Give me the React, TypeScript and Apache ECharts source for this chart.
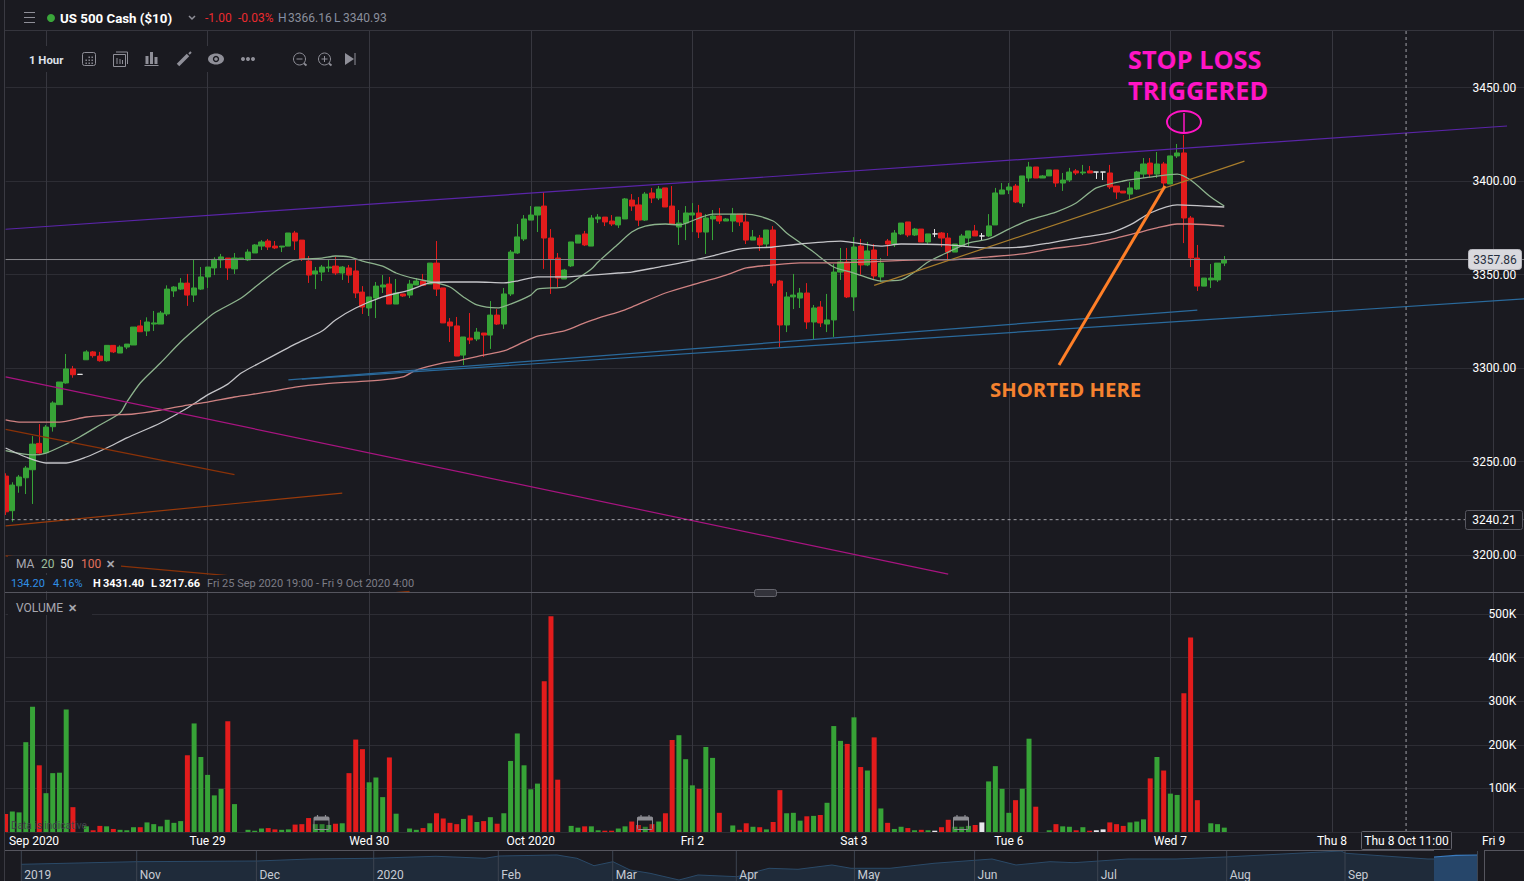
import React, { useEffect, useRef } from "react";
import * as echarts from "echarts";

// ---- Candles, one entry per hourly slot ----
const opens = [
3242.2,3223.7,3237.0,3241.3,3245.6,3259.7,3254.7,3268.6,3280.4,3292.0,
3299.5,3296.6,3304.4,3308.6,3306.4,3303.9,3312.1,3308.0,3311.2,3312.3,
3322.5,3319.8,3323.5,3323.5,3328.9,3341.2,3342.2,3345.4,3339.0,3342.2,
3348.7,3353.5,3357.8,3358.8,3353.0,3358.0,3357.8,3361.5,3365.2,3367.9,
3365.2,3364.7,3365.2,3372.2,3368.4,3357.2,3350.3,3351.3,3353.5,3354.5,
3350.8,3353.5,3351.9,3340.6,3332.1,3337.4,3343.3,3344.9,3334.2,3339.6,
3339.0,3344.4,3346.5,3344.9,3356.1,3342.8,3324.6,3322.5,3306.9,3316.0,
3315.5,3318.7,3317.6,3328.3,3323.5,3339.6,3361.5,3369.0,3379.1,3381.8,
3386.6,3369.5,3358.8,3347.6,3354.6,3366.8,3371.7,3365.2,3379.7,3380.7,
3378.6,3376.5,3379.7,3389.8,3387.2,3379.1,3393.6,3390.9,3396.3,3386.6,
3375.4,3377.5,3381.8,3382.9,3372.7,3379.7,3381.3,3378.6,3378.6,3382.3,
3378.1,3368.4,3369.5,3366.3,3373.8,3346.5,3323.0,3338.0,3337.4,3340.1,
3324.6,3332.6,3323.5,3325.7,3351.3,3356.7,3338.0,3365.2,3355.1,3363.1,
3348.7,3367.9,3366.3,3371.7,3378.1,3371.1,3374.3,3367.4,3371.7,3372.2,
3369.5,3362.0,3365.2,3369.5,3373.3,3370.6,3370.6,3376.5,3393.0,3395.2,
3397.3,3388.2,3401.6,3407.5,3401.6,3402.7,3405.9,3398.9,3400.5,3405.4,
3404.3,3405.4,3404.8,3404.8,3404.3,3397.3,3394.6,3393.0,3395.7,3403.7,
3409.6,3403.7,3409.1,3398.4,3413.4,3415.0,3380.2,3358.8,3343.8,3347.1,
3347.1,3356.1];
const closes = [
3223.1,3237.4,3241.7,3246.5,3259.3,3254.5,3268.4,3281.3,3292.5,3299.5,
3296.4,3296.6,3308.6,3306.6,3303.9,3312.1,3308.6,3311.2,3312.8,3321.9,
3319.4,3324.6,3324.1,3329.4,3342.2,3343.3,3345.4,3339.0,3342.8,3348.7,
3354.0,3358.1,3359.4,3353.5,3358.8,3358.8,3362.0,3365.8,3367.4,3364.7,
3364.2,3365.2,3372.2,3367.9,3358.3,3349.7,3351.9,3354.0,3354.0,3350.8,
3354.0,3349.7,3340.1,3332.6,3338.0,3343.8,3344.4,3334.2,3340.1,3338.5,
3344.9,3346.5,3344.2,3356.1,3342.2,3324.1,3322.5,3306.4,3316.6,3315.0,
3319.2,3317.6,3328.3,3323.5,3339.6,3362.0,3370.1,3379.7,3381.8,3386.1,
3369.5,3358.3,3348.1,3352.4,3367.4,3371.1,3365.8,3380.2,3380.7,3378.1,
3377.0,3380.7,3390.4,3386.6,3379.1,3393.0,3390.9,3395.7,3386.1,3377.0,
3377.5,3382.9,3382.9,3372.7,3380.2,3381.3,3378.6,3379.7,3382.3,3378.1,
3368.4,3370.1,3365.8,3373.8,3345.4,3323.0,3338.0,3339.0,3340.1,3324.6,
3332.1,3324.1,3325.7,3351.3,3356.7,3338.0,3364.7,3355.1,3362.6,3349.2,
3356.1,3366.3,3372.2,3377.5,3371.1,3374.3,3367.4,3371.7,3371.7,3369.5,
3362.0,3366.3,3370.6,3373.3,3370.6,3370.6,3376.0,3393.6,3395.2,3396.8,
3388.8,3402.7,3407.5,3401.6,3402.7,3405.9,3398.9,3400.5,3404.8,3404.3,
3404.8,3404.3,3404.8,3404.8,3396.8,3394.1,3393.6,3396.3,3404.8,3409.1,
3403.7,3409.1,3398.9,3413.4,3415.0,3380.2,3358.8,3343.8,3348.1,3348.1,
3356.1,3357.8];
const lows = [
3221.4,3217.8,3233.3,3232.6,3227.3,3254.0,3254.5,3266.0,3280.4,3291.6,
3294.8,3296.6,3304.3,3305.5,3303.4,3303.4,3308.0,3308.0,3310.1,3312.3,
3319.4,3317.1,3319.8,3323.5,3327.8,3338.0,3341.7,3333.2,3335.3,3341.7,
3342.8,3349.7,3353.5,3347.1,3350.3,3358.0,3357.2,3361.5,3363.1,3363.1,
3363.6,3362.0,3365.2,3363.1,3357.2,3345.5,3342.2,3346.5,3351.3,3349.7,
3347.1,3345.5,3337.4,3328.9,3327.8,3326.7,3340.1,3334.2,3334.2,3338.0,
3337.4,3344.4,3344.2,3344.9,3338.5,3324.1,3313.9,3306.4,3301.6,3312.8,
3314.4,3305.9,3310.2,3323.0,3320.9,3338.5,3361.0,3367.9,3379.1,3372.7,
3353.0,3339.6,3343.3,3347.6,3354.0,3366.8,3365.2,3365.2,3377.5,3375.9,
3375.9,3374.9,3379.7,3384.0,3375.9,3378.6,3388.2,3389.8,3386.1,3376.5,
3365.8,3368.4,3372.7,3369.5,3361.0,3368.4,3377.0,3378.6,3372.7,3375.9,
3366.3,3368.4,3362.6,3364.7,3343.8,3311.2,3319.2,3331.5,3332.1,3320.9,
3315.5,3321.9,3319.2,3316.6,3347.1,3337.4,3330.5,3349.7,3354.5,3347.6,
3346.0,3359.9,3364.7,3371.1,3370.0,3370.6,3367.4,3366.3,3370.0,3364.7,
3357.2,3362.0,3364.7,3365.2,3370.6,3367.9,3370.0,3376.5,3393.0,3393.0,
3388.2,3386.1,3399.5,3401.6,3401.6,3402.7,3396.8,3394.7,3399.5,3403.2,
3403.2,3404.3,3401.1,3400.5,3395.7,3390.4,3393.6,3389.8,3395.2,3401.6,
3401.6,3401.6,3396.8,3398.4,3412.3,3366.8,3354.0,3341.2,3343.8,3342.8,
3346.0,3354.5];
const highs = [
3243.7,3238.9,3242.8,3247.6,3263.6,3270.0,3269.5,3282.2,3292.5,3307.5,
3301.1,3296.6,3309.5,3309.1,3308.6,3312.1,3312.1,3312.1,3312.8,3321.9,
3325.7,3327.1,3330.5,3330.5,3344.2,3343.8,3348.1,3350.3,3357.8,3354.0,
3354.0,3359.2,3361.0,3358.8,3361.5,3358.8,3363.5,3366.3,3368.4,3369.0,
3367.9,3365.2,3372.2,3373.3,3368.4,3359.9,3354.0,3355.1,3357.8,3359.4,
3354.5,3355.1,3357.8,3343.8,3338.0,3346.0,3349.7,3348.7,3347.6,3339.6,
3347.1,3348.1,3350.3,3356.1,3367.9,3342.8,3326.7,3327.3,3316.6,3329.4,
3321.4,3318.7,3335.8,3331.5,3342.8,3363.1,3377.0,3381.8,3386.6,3386.1,
3394.1,3374.3,3361.5,3353.0,3367.4,3371.1,3373.3,3381.8,3382.3,3380.7,
3381.8,3380.7,3390.9,3393.0,3391.4,3394.1,3396.3,3397.3,3396.3,3397.3,
3384.5,3386.6,3388.2,3387.2,3382.3,3384.5,3385.6,3380.2,3385.6,3382.3,
3382.9,3373.8,3371.1,3373.8,3375.9,3347.1,3340.6,3350.3,3342.8,3345.4,
3333.7,3335.8,3339.6,3355.6,3364.2,3364.2,3370.0,3369.0,3367.4,3366.3,
3358.8,3369.0,3373.8,3377.5,3378.1,3374.9,3374.3,3371.7,3374.3,3372.7,
3372.2,3366.3,3371.7,3373.3,3376.5,3372.2,3382.3,3396.3,3398.9,3398.9,
3398.4,3402.7,3410.2,3407.5,3403.2,3405.9,3405.9,3404.3,3407.0,3406.4,
3408.6,3408.0,3404.8,3404.8,3408.6,3397.3,3394.6,3399.5,3405.4,3412.3,
3412.3,3415.5,3410.2,3413.4,3419.8,3424.6,3381.3,3365.8,3348.1,3355.6,
3356.1,3359.9];
// thousands of lots per slot
const volumesK = [
41,47,45,206,287,153,89,135,136,281,57,0,
13,4,14,13,7,5,4,11,11,22,18,13,28,21,25,
176,249,172,131,84,99,254,64,0,
5,3,8,9,6,5,6,17,18,32,18,18,16,19,20,
135,212,190,114,125,80,171,42,0,8,5,
9,20,43,31,21,18,30,38,23,25,34,19,43,
163,226,153,98,111,346,495,120,0,
14,10,13,13,4,3,3,8,13,24,16,12,18,24,43,
211,222,167,107,99,195,170,44,0,
15,5,20,12,11,6,23,96,43,44,26,36,37,39,67,243,209,
202,263,149,141,217,54,
21,7,12,9,4,5,4,3,11,28,12,12,14,16,22,
116,151,99,44,73,99,214,58,0,
4,18,13,12,4,11,3,4,6,22,18,14,22,24,29,
123,172,141,88,85,318,446,73,0,
20,18,10];

// ---- Moving averages, read at the slots listed ----
const ma20Slots = [0,4,6,9,11,14,17,18,20,23,26,29,31,35,38,41,43,47,49,51,53,56,58,61,64,66,68,70,73,75,78,79,83,84,87,88,91,93,95,98,100,103,105,110,114,116,120,123,126,130,133,135,137,140,143,146,149,152,156,159,162,166,170,174,176,179,181];
const ma20Values = [3255.8,3253.5,3254.5,3259.3,3263.1,3269.5,3275.9,3281.8,3292.0,3302.7,3313.9,3323.5,3329.4,3337.4,3346.0,3354.0,3357.8,3358.8,3359.9,3359.4,3357.2,3354.5,3350.8,3347.6,3345.5,3343.3,3338.0,3333.7,3332.1,3334.2,3339.0,3342.2,3343.3,3345.5,3352.9,3356.7,3366.3,3372.7,3375.9,3377.0,3376.5,3380.2,3382.3,3382.3,3378.6,3372.2,3362.0,3354.0,3350.8,3346.5,3347.1,3351.3,3356.7,3362.0,3366.8,3369.0,3374.3,3379.1,3383.4,3388.2,3396.3,3400.0,3402.1,3403.7,3400.5,3391.4,3386.6];
const ma50Slots = [0,3,6,9,12,15,18,23,27,30,33,35,38,43,47,49,52,56,60,63,66,70,74,76,79,83,87,91,93,97,101,105,109,114,118,124,130,133,140,146,151,155,160,164,167,170,174,178,181];
const ma50Values = [3257.2,3252.4,3249.2,3249.2,3252.4,3257.2,3262.6,3270.6,3278.6,3285.6,3291.4,3297.3,3303.2,3312.8,3319.8,3325.7,3332.1,3338.0,3341.7,3345.5,3346.0,3346.0,3345.5,3346.5,3348.7,3348.7,3349.7,3350.8,3351.3,3354.0,3356.7,3359.9,3363.6,3364.7,3366.3,3367.9,3365.2,3366.3,3365.8,3364.2,3364.7,3366.8,3370.0,3372.2,3376.5,3382.9,3387.2,3386.6,3386.1];
const ma100Slots = [0,2,5,8,12,16,19,23,27,30,34,39,43,47,56,59,61,65,67,71,74,77,79,83,86,88,91,93,98,103,107,110,114,118,123,128,136,140,146,151,155,160,165,168,171,174,176,181];
const ma100Values = [3272.2,3271.1,3271.1,3271.1,3273.8,3274.9,3275.4,3277.5,3280.2,3281.8,3284.5,3287.2,3289.8,3291.4,3293.6,3295.2,3298.9,3302.7,3303.7,3306.9,3309.1,3314.0,3317.1,3319.8,3324.1,3326.7,3329.9,3332.6,3340.1,3345.5,3349.7,3353.5,3355.1,3356.2,3356.2,3356.7,3357.8,3357.8,3359.4,3361.0,3363.6,3365.8,3369.5,3372.2,3374.9,3377.0,3377.0,3375.9];

// ---- Trend lines: two slots, two prices ----
const purpleSlots = [0, 223];
const purpleValues = [3374.2, 3429.4];
const blueUpperSlots = [42, 177];
const blueUpperValues = [3293.7, 3331.0];
const blueLowerSlots = [44, 226];
const blueLowerValues = [3294.1, 3337.1];
const magentaSlots = [0, 140];
const magentaValues = [3295.3, 3189.8];
const rustFallSlots = [0, 34];
const rustFallValues = [3267.2, 3243.0];
const rustRiseSlots = [0, 50];
const rustRiseValues = [3215.6, 3233.1];
const rustLowSlots = [0, 60];
const rustLowValues = [3199.5, 3180.4];
const tanSlots = [129, 184];
const tanValues = [3344.2, 3410.6];

// ---- Axis text ----
const slotCount = 227;
const priceTicks = [3200, 3250, 3300, 3350, 3400, 3450];
const gridSlots = [6, 30, 54, 78, 102, 126, 149, 173, 197, 221];
const axisLabelSlots = [4, 30, 54, 78, 102, 126, 149, 173, 197, 221];
const axisLabelTexts = ["Sep 2020", "Tue 29", "Wed 30", "Oct 2020", "Fri 2", "Sat 3", "Tue 6", "Wed 7", "Thu 8", "Fri 9"];
const crosshairSlot = 208;
const lastPrice = 3358.0; // drawn height of the 3357.86 line
const crosshairPrice = 3218.9; // drawn height of the 3240.21 line

// ---- Overview strip ----
const navOffsets = [0,115,236,289,352,415,464,478,536,556,573,592,609,629,658,677,716,748,777,811,830,869,913,971,995,1029,1053,1107,1155,1204,1320,1325,1349,1407,1413];
const navPrices = [2947,3071,3104,3199,3233,3328,3233,3342,3390,3233,2880,3071,2676,2519,2200,2438,2357,2757,2709,2914,2757,2757,2995,3199,2914,3071,3023,3199,3199,3294,3580,3470,3390,3199,3199];
const navSelOffsets = [1413, 1435, 1456];
const navSelPrices = [3294, 3370, 3390];
const navMonths = ["2019", "Nov", "Dec", "2020", "Feb", "Mar", "Apr", "May", "Jun", "Jul", "Aug", "Sep"];
const navMonthX = [21.3, 136.7, 256.4, 373.7, 498.3, 612.7, 736.3, 854.4, 974.6, 1097.7, 1226.7, 1345];

const BG = "#1a1a20";
const GRID = "#2d2d34";
const VGRID = "#37373f";
const GREEN = "#37a337";
const RED = "#e21c1c";
const WHITE = "#e8e8ec";
const FONT = "Roboto, sans-serif";

const zip = (xs: number[], ys: number[]) => xs.map((x, i) => [x, ys[i]]);

const txt = (x: number, y: number, text: string, fill: string, font = `12px ${FONT}`, align = "left") => ({
  type: "text", x, y, z: 60,
  style: { text, fill, font, textAlign: align, textVerticalAlign: "middle" },
});
const seg = (x1: number, y1: number, x2: number, y2: number, stroke: string, lineWidth = 1) => ({
  type: "line", z: 55, shape: { x1, y1, x2, y2 }, style: { stroke, lineWidth },
});
const box = (x: number, y: number, width: number, height: number, fill: string, stroke = "none", r = 0, z = 50) => ({
  type: "rect", z, shape: { x, y, width, height, r }, style: { fill, stroke, lineWidth: 1 },
});

function iconGraphics() {
  const g = "#8f8f98";
  const out: any[] = [];
  // header
  [12, 17, 22].forEach((y) => out.push(seg(24, y + 0.5, 35, y + 0.5, g, 1)));
  out.push({ type: "circle", z: 60, shape: { cx: 51, cy: 18, r: 4 }, style: { fill: "#3aa63a" } });
  out.push({ type: "polyline", z: 60, shape: { points: [[189, 16], [192, 19], [195, 16]] }, style: { stroke: g, fill: "none", lineWidth: 1.5 } });
  // calendar grid
  out.push(box(82.5, 52.5, 13, 13, "none", g, 2, 60));
  [[86, 60], [89, 60], [92, 60], [89, 57], [92, 57], [86, 63], [89, 63], [92, 63]].forEach(([x, y]) => out.push(box(x - 0.5, y - 0.5, 1.4, 1.4, g, "none", 0, 60)));
  // candles icon
  out.push(box(113.5, 54.5, 12, 12, "none", g, 0, 60));
  out.push(seg(116, 52, 127.5, 52, g, 1), seg(127.5, 52, 127.5, 64, g, 1));
  [117, 120, 122.5].forEach((x, i) => out.push(seg(x, 58 + i, x, 64, g, 1)));
  // bars icon
  out.push(box(145.5, 56, 3, 8, g, "none", 0, 60), box(150, 52, 3, 12, g, "none", 0, 60), box(154.5, 57, 3, 7, g, "none", 0, 60));
  out.push(seg(144.5, 65.5, 158.5, 65.5, g, 1));
  // pencil
  out.push(seg(178, 65, 188, 55, g, 3.5), seg(189, 54, 191, 52, g, 2));
  // eye
  out.push({ type: "ellipse", z: 60, shape: { cx: 216, cy: 59, rx: 8, ry: 5.5 }, style: { fill: g } });
  out.push({ type: "circle", z: 61, shape: { cx: 216, cy: 59, r: 3.2 }, style: { fill: BG } });
  out.push({ type: "circle", z: 62, shape: { cx: 216, cy: 59, r: 1.8 }, style: { fill: g } });
  // dots
  [243, 248, 253].forEach((cx) => out.push({ type: "circle", z: 60, shape: { cx, cy: 59, r: 2 }, style: { fill: g } }));
  // zoom out and in
  [299.5, 324.5].forEach((cx, i) => {
    out.push({ type: "circle", z: 60, shape: { cx, cy: 59, r: 6 }, style: { fill: "none", stroke: g, lineWidth: 1 } });
    out.push(seg(cx - 3, 59, cx + 3, 59, g, 1), seg(cx + 4.5, 63.5, cx + 7, 65.5, g, 1.8));
    if (i === 1) out.push(seg(cx, 56, cx, 62, g, 1));
  });
  // go to end
  out.push({ type: "polygon", z: 60, shape: { points: [[345, 53], [354, 59], [345, 65]] }, style: { fill: g } });
  out.push(seg(355, 53, 355, 65, g, 1));
  // calendar markers in the volume pane
  [321.5, 645, 961].forEach((cx) => {
    out.push(box(cx - 7.5, 817, 15, 12.5, "rgba(26,26,32,0.25)", "#8c8c92", 1, 58));
    out.push(box(cx - 7.5, 817, 15, 3.5, "#8c8c92", "none", 0, 58));
    out.push(seg(cx - 4, 815, cx - 4, 818, "#8c8c92", 1.2), seg(cx + 4, 815, cx + 4, 818, "#8c8c92", 1.2));
  });
  return out;
}

function App() {
  const ref = useRef<HTMLDivElement>(null);
  useEffect(() => {
    document.body.style.margin = "0";
    document.body.style.background = BG;
    const chart = echarts.init(ref.current!, undefined, { renderer: "svg" });
    const slots = Array.from({ length: slotCount }, (_, i) => String(i));
    const left = 5.6;
    const width = 6.733 * (slotCount - 1);
    const candleData = opens.map((o, i) => [o, closes[i], lows[i], highs[i]]);
    const volumeData = volumesK.map((v, i) => ({
      value: v,
      itemStyle: { color: closes[i] > opens[i] ? GREEN : closes[i] < opens[i] ? RED : WHITE },
    }));
    const trend = (name: string, xs: number[], ys: number[], color: string, w = 1.2, smooth: number | boolean = false) => ({
      name, type: "line", xAxisIndex: 0, yAxisIndex: 0, data: zip(xs, ys), symbol: "none", z: 4, smooth,
      lineStyle: { color, width: w }, silent: true,
    });
    const hiddenX = (gridIndex: number) => ({
      type: "category", gridIndex, data: slots, boundaryGap: false, show: false,
    });
    const graphics: any[] = [
      // left rail and frame rules
      box(0, 0, 5, 881, BG, "none", 0, 48),
      seg(4.5, 0, 4.5, 881, "#3a3a42"),
      seg(5, 30.5, 1524, 30.5, "#35353d"),
      seg(5, 592.5, 1524, 592.5, "#55555e"),
      seg(5, 850.5, 1434, 850.5, "#55555e"),
      seg(1484, 850.5, 1524, 850.5, "#55555e"),
      seg(1484.5, 851, 1484.5, 881, "#55555e"),
      box(1478, 851, 46, 30, BG, "none", 0, 49),
      seg(1477.5, 851, 1477.5, 881, "#3d4450"),
      box(754.5, 589.5, 22, 7, "#33333b", "#66666e", 2, 56),
      seg(761, 592, 770, 592, "#8c8c92"),
      seg(761, 594, 770, 594, "#8c8c92"),
      // toolbar and legend backings
      box(15, 46, 350, 26, BG),
      box(8, 556, 113, 17, BG),
      box(8, 575, 400, 16, BG),
      box(8, 600, 84, 15, BG),
      // header text
      txt(60, 18, "US 500 Cash ($10)", "#ffffff", `bold 13.3px ${FONT}`),
      txt(205, 17.5, "-1.00", "#ea2a2f"),
      txt(238, 17.5, "-0.03%", "#ea2a2f"),
      txt(278, 17.5, "H", "#8590a6"),
      txt(288, 17.5, "3366.16", "#8a8f9c"),
      txt(334, 17.5, "L", "#8590a6"),
      txt(343, 17.5, "3340.93", "#8a8f9c"),
      txt(29, 60, "1 Hour", "#dfe2ea", `bold 11.4px ${FONT}`),
      // legends
      txt(16, 564, "MA", "#a8a8b0"),
      txt(41, 564, "20", "#9dbf9d"),
      txt(60, 564, "50", "#e6e6e6"),
      txt(81, 564, "100", "#e0705c"),
      txt(106, 564, "✕", "#a8a8b0", `bold 11px ${FONT}`),
      txt(11, 583.5, "134.20", "#2f8fe6", `11px ${FONT}`),
      txt(53, 583.5, "4.16%", "#2f8fe6", `11px ${FONT}`),
      txt(93, 583.5, "H", "#ffffff", `bold 11px ${FONT}`),
      txt(103, 583.5, "3431.40", "#ffffff", `bold 11px ${FONT}`),
      txt(151, 583.5, "L", "#ffffff", `bold 11px ${FONT}`),
      txt(159, 583.5, "3217.66", "#ffffff", `bold 11px ${FONT}`),
      txt(207, 583.5, "Fri 25 Sep 2020 19:00 - Fri 9 Oct 2020 4:00", "#7d7d86", `11px ${FONT}`),
      txt(16, 608, "VOLUME", "#a8a8b0"),
      txt(68, 608, "✕", "#a8a8b0", `bold 11px ${FONT}`),
      txt(11, 825.5, "Data is indicative", "#43434b", `10px ${FONT}`),
      // price and time flags
      box(1468.5, 249.5, 53, 20, "#d9d9de", "#b8b8be", 3, 58),
      txt(1495, 260, "3357.86", "#27303f", `12px ${FONT}`, "center"),
      box(1465.5, 510.5, 57, 19, BG, "#55555e", 2, 58),
      txt(1494, 520, "3240.21", "#ffffff", `12px ${FONT}`, "center"),
      box(1361.5, 831.5, 90, 18, BG, "#62626b", 1, 58),
      txt(1406.5, 841, "Thu 8 Oct 11:00", "#ffffff", `12px ${FONT}`, "center"),
      // the hand-drawn notes
      txt(1128, 58.5, "STOP LOSS", "#ff14c4", `bold 25.3px "Open Sans", sans-serif`),
      txt(1128, 90, "TRIGGERED", "#ff14c4", `bold 25.3px "Open Sans", sans-serif`),
      { type: "ellipse", z: 60, shape: { cx: 1184, cy: 122, rx: 17, ry: 11 }, style: { fill: "none", stroke: "#ff14c4", lineWidth: 2 } },
      seg(1184, 113, 1184, 133, "#ff14c4", 1.5),
      txt(990, 388.5, "SHORTED HERE", "#f5822f", `bold 20.3px "Open Sans", sans-serif`),
      { type: "line", z: 60, shape: { x1: 1059, y1: 365, x2: 1165, y2: 186 }, style: { stroke: "#ff7f27", lineWidth: 3 } },
      ...iconGraphics(),
    ];
    navMonths.forEach((m, i) => {
      graphics.push(seg(navMonthX[i], 851, navMonthX[i], 881, "#3d4450"));
      graphics.push(txt(navMonthX[i] + 3, 874.5, m, "#c8ccd4"));
    });
    chart.setOption({
      animation: false,
      backgroundColor: BG,
      textStyle: { fontFamily: FONT },
      grid: [
        { left, width, top: 40.75, height: 561, outerBoundsMode: "none" },
        { left, width, top: 592.2, height: 239.8, outerBoundsMode: "none" },
        { left, width, top: 30, height: 802, outerBoundsMode: "none" },
        { left: 21, width: 1457, top: 851, height: 30, outerBoundsMode: "none" },
      ],
      xAxis: [
        hiddenX(0),
        hiddenX(1),
        {
          type: "category", gridIndex: 2, data: slots, boundaryGap: false,
          axisLine: { show: false }, axisTick: { show: false },
          axisLabel: {
            color: "#ffffff", fontSize: 12, margin: 3, fontFamily: FONT, hideOverlap: false,
            interval: (i: number) => axisLabelSlots.includes(i),
            formatter: (_: string, i: number) => {
              const t = axisLabelTexts[axisLabelSlots.indexOf(i)] ?? "";
              return i === axisLabelSlots[0] ? `{first|${t}}` : t;
            },
            rich: { first: { color: "#ffffff", fontSize: 12, fontFamily: FONT, padding: [0, 0, 0, 3] } },
          },
          splitLine: { show: true, interval: (i: number) => gridSlots.includes(i), lineStyle: { color: VGRID, width: 1 } },
        },
        { type: "value", gridIndex: 3, min: 0, max: 1457, show: false },
      ],
      yAxis: [
        {
          type: "value", gridIndex: 0, position: "right", min: 3175, max: 3475, interval: 25,
          axisLine: { show: false }, axisTick: { show: false },
          axisLabel: {
            inside: true, margin: 11, color: "#ffffff", fontSize: 12, fontFamily: FONT, padding: [2, 0, 0, 0],
            formatter: (v: number) => (priceTicks.includes(v) ? v.toFixed(2) : ""),
          },
          splitLine: { show: true, lineStyle: { color: ["transparent", GRID], width: 1 } },
        },
        {
          type: "value", gridIndex: 1, position: "right", min: 0, max: 550, interval: 100,
          axisLine: { show: false }, axisTick: { show: false },
          axisLabel: {
            inside: true, margin: 11, color: "#ffffff", fontSize: 12, fontFamily: FONT, padding: [2, 0, 0, 0],
            formatter: (v: number) => (v > 0 && v < 550 ? `${v}K` : ""),
          },
          splitLine: { show: true, lineStyle: { color: GRID, width: 1 } },
        },
        { type: "value", gridIndex: 2, min: 0, max: 1, show: false },
        { type: "value", gridIndex: 3, min: 2152, max: 3580, show: false },
      ],
      series: [
        {
          name: "Price", type: "candlestick", xAxisIndex: 0, yAxisIndex: 0, data: candleData, barWidth: 5.6, z: 3,
          itemStyle: { color: GREEN, color0: RED, borderColor: GREEN, borderColor0: RED, borderColorDoji: "#e6e6e6", borderWidth: 1 },
        },
        trend("MA 20", ma20Slots, ma20Values, "#8db38d", 1.3, 0.25),
        trend("MA 50", ma50Slots, ma50Values, "#c4c4c8", 1.3, 0.25),
        trend("MA 100", ma100Slots, ma100Values, "#cf8282", 1.3, 0.25),
        trend("Channel top", purpleSlots, purpleValues, "#5a25a8"),
        trend("Support upper", blueUpperSlots, blueUpperValues, "#2a6a9c"),
        trend("Support lower", blueLowerSlots, blueLowerValues, "#2a6a9c"),
        trend("Magenta", magentaSlots, magentaValues, "#a81480"),
        trend("Rust fall", rustFallSlots, rustFallValues, "#8a3208"),
        trend("Rust rise", rustRiseSlots, rustRiseValues, "#993a0a"),
        trend("Rust low", rustLowSlots, rustLowValues, "#8a3208"),
        trend("Tan", tanSlots, tanValues, "#a87d2c"),
        trend("Last", [0, 226], [lastPrice, lastPrice], "#8a8a8e", 1),
        {
          name: "Crosshair price", type: "line", xAxisIndex: 0, yAxisIndex: 0, symbol: "none", z: 4,
          data: zip([0, 226], [crosshairPrice, crosshairPrice]),
          lineStyle: { color: "#a0a0a6", width: 1, type: [3, 3] },
        },
        {
          name: "Volume", type: "bar", xAxisIndex: 1, yAxisIndex: 1, data: volumeData, barWidth: 5, z: 3,
        },
        {
          name: "Crosshair time", type: "line", xAxisIndex: 2, yAxisIndex: 2, symbol: "none", z: 4,
          data: [[crosshairSlot, 0], [crosshairSlot, 1]],
          lineStyle: { color: "#a0a0a6", width: 1, type: [3, 3] },
        },
        {
          name: "Overview", type: "line", xAxisIndex: 3, yAxisIndex: 3, symbol: "none", data: zip(navOffsets, navPrices),
          lineStyle: { color: "#2b4a68", width: 1 }, areaStyle: { color: "#1f2b3a", opacity: 1 }, z: 2,
        },
        {
          name: "Overview selected", type: "line", xAxisIndex: 3, yAxisIndex: 3, symbol: "none", data: zip(navSelOffsets, navSelPrices),
          lineStyle: { color: "#3a7cc0", width: 1.2 }, areaStyle: { color: "#26466a", opacity: 1 }, z: 2,
        },
      ],
      graphic: graphics,
    });
    return () => chart.dispose();
  }, []);
  return <div ref={ref} style={{ position: "fixed", left: 0, top: 0, width: 1524, height: 881 }} />;
}

export default App;
